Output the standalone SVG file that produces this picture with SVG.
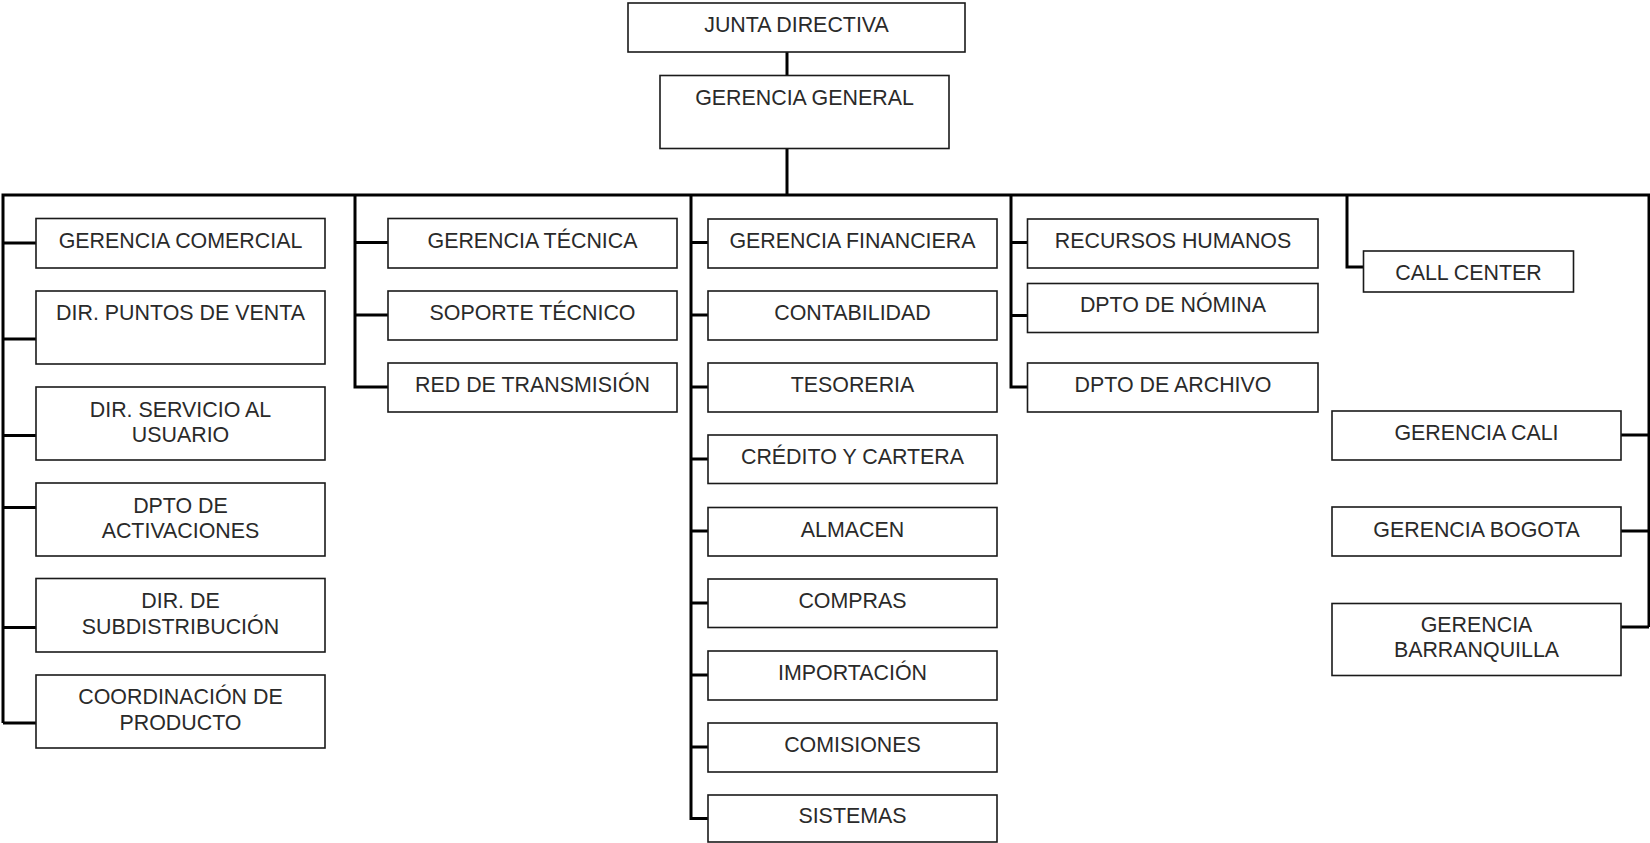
<svg xmlns="http://www.w3.org/2000/svg" width="1650" height="843" viewBox="0 0 1650 843">
<style>
rect{fill:#fff;stroke:#1a1a1a;stroke-width:1.6}
text{font-family:"Liberation Sans",Arial,sans-serif;font-size:21.4px;fill:#2a2a2a;text-anchor:middle}
.c{fill:none;stroke:#000;stroke-width:3}
</style>
<rect x="0" y="0" width="1650" height="843" style="fill:#fff;stroke:none"/>
<g id="connectors" class="c">
<path d="M787 52V75M787 148V195"/>
<path d="M3 723V195H1649V627"/>
<path d="M3 243H36M3 339H36M3 435.5H36M3 507.5H36M3 627.5H36M3 723H36"/>
<path d="M355 195V387H388M355 242.5H388M355 315H388"/>
<path d="M691 195V818.5H708M691 242.5H708M691 315H708M691 387H708M691 459H708M691 531H708M691 603H708M691 675H708M691 747H708"/>
<path d="M1011 195V387H1027.5M1011 242.5H1027.5M1011 315.5H1027.5"/>
<path d="M1347 195V267H1363.5"/>
<path d="M1621 435H1649M1621 531H1649M1621 627H1649"/>
</g>
<g id="junta-directiva"><rect x="628" y="3" width="337" height="49"/><text x="796.5" y="32">JUNTA DIRECTIVA</text></g>
<g id="gerencia-general"><rect x="660" y="75.5" width="289" height="73"/><text x="804.5" y="105">GERENCIA GENERAL</text></g>
<g id="gerencia-comercial"><rect x="36" y="218.5" width="289" height="49.5"/><text x="180.5" y="248">GERENCIA COMERCIAL</text></g>
<g id="dir-puntos-venta"><rect x="36" y="291" width="289" height="73"/><text x="180.5" y="320">DIR. PUNTOS DE VENTA</text></g>
<g id="dir-servicio-usuario"><rect x="36" y="387" width="289" height="73"/><text x="180.5" y="416.5">DIR. SERVICIO AL</text><text x="180.5" y="442">USUARIO</text></g>
<g id="dpto-activaciones"><rect x="36" y="483" width="289" height="73"/><text x="180.5" y="512.5">DPTO DE</text><text x="180.5" y="538">ACTIVACIONES</text></g>
<g id="dir-subdistribucion"><rect x="36" y="578.5" width="289" height="73.5"/><text x="180.5" y="608">DIR. DE</text><text x="180.5" y="634">SUBDISTRIBUCIÓN</text></g>
<g id="coordinacion-producto"><rect x="36" y="675" width="289" height="73"/><text x="180.5" y="704">COORDINACIÓN DE</text><text x="180.5" y="730">PRODUCTO</text></g>
<g id="gerencia-tecnica"><rect x="388" y="218.5" width="289" height="49.5"/><text x="532.5" y="248">GERENCIA TÉCNICA</text></g>
<g id="soporte-tecnico"><rect x="388" y="291" width="289" height="49"/><text x="532.5" y="320">SOPORTE TÉCNICO</text></g>
<g id="red-transmision"><rect x="388" y="363" width="289" height="49"/><text x="532.5" y="392">RED DE TRANSMISIÓN</text></g>
<g id="gerencia-financiera"><rect x="708" y="219" width="289" height="49"/><text x="852.5" y="248">GERENCIA FINANCIERA</text></g>
<g id="contabilidad"><rect x="708" y="291" width="289" height="49"/><text x="852.5" y="320">CONTABILIDAD</text></g>
<g id="tesoreria"><rect x="708" y="363" width="289" height="49"/><text x="852.5" y="392">TESORERIA</text></g>
<g id="credito-cartera"><rect x="708" y="435" width="289" height="48.5"/><text x="852.5" y="464">CRÉDITO Y CARTERA</text></g>
<g id="almacen"><rect x="708" y="507.5" width="289" height="48.5"/><text x="852.5" y="536.5">ALMACEN</text></g>
<g id="compras"><rect x="708" y="579" width="289" height="48.5"/><text x="852.5" y="608">COMPRAS</text></g>
<g id="importacion"><rect x="708" y="651" width="289" height="49"/><text x="852.5" y="680">IMPORTACIÓN</text></g>
<g id="comisiones"><rect x="708" y="723" width="289" height="49"/><text x="852.5" y="751.5">COMISIONES</text></g>
<g id="sistemas"><rect x="708" y="795" width="289" height="47"/><text x="852.5" y="823">SISTEMAS</text></g>
<g id="recursos-humanos"><rect x="1027.5" y="219" width="290.5" height="49"/><text x="1173" y="248">RECURSOS HUMANOS</text></g>
<g id="dpto-nomina"><rect x="1027.5" y="283.5" width="290.5" height="49"/><text x="1173" y="311.5">DPTO DE NÓMINA</text></g>
<g id="dpto-archivo"><rect x="1027.5" y="363" width="290.5" height="49"/><text x="1173" y="392">DPTO DE ARCHIVO</text></g>
<g id="call-center"><rect x="1363.5" y="251" width="210" height="41"/><text x="1468.5" y="280">CALL CENTER</text></g>
<g id="gerencia-cali"><rect x="1332" y="411" width="289" height="49"/><text x="1476.5" y="440">GERENCIA CALI</text></g>
<g id="gerencia-bogota"><rect x="1332" y="507" width="289" height="49"/><text x="1476.5" y="536.5">GERENCIA BOGOTA</text></g>
<g id="gerencia-barranquilla"><rect x="1332" y="603.5" width="289" height="72"/><text x="1476.5" y="631.5">GERENCIA</text><text x="1476.5" y="657">BARRANQUILLA</text></g>
</svg>
